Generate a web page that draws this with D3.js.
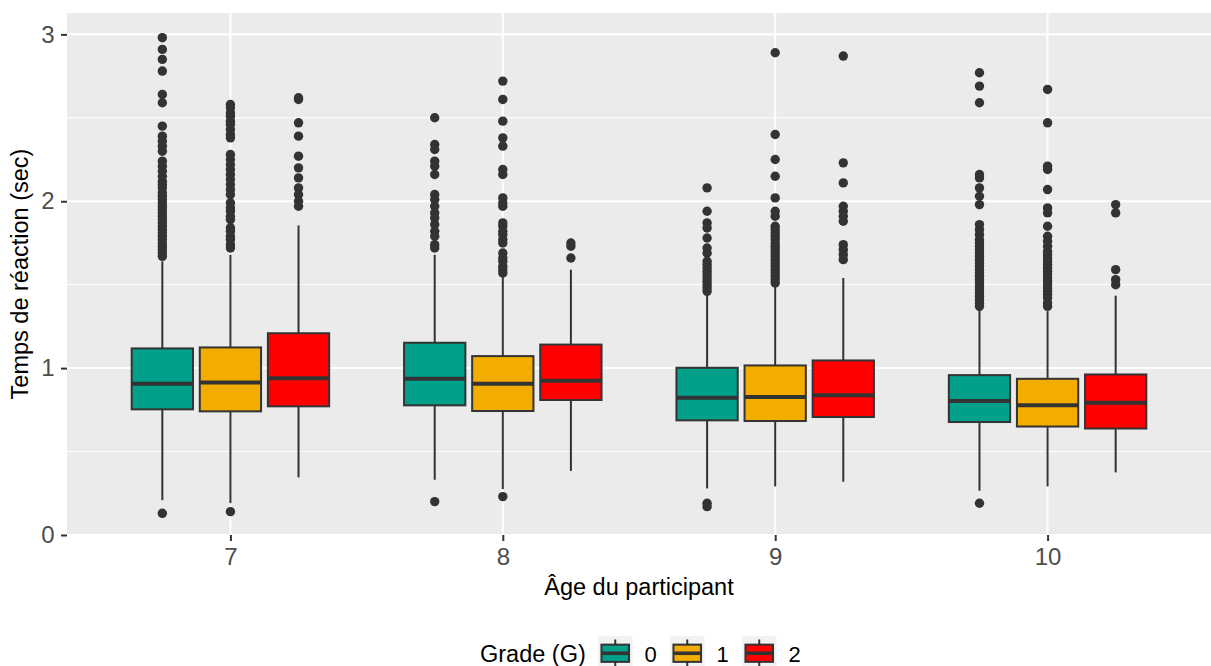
<!DOCTYPE html>
<html>
<head>
<meta charset="utf-8">
<script src="https://cdn.jsdelivr.net/npm/d3@7"></script>
<style>
  html, body { margin: 0; padding: 0; background: #ffffff; }
  svg { display: block; font-family: "Liberation Sans", Arial, Helvetica, sans-serif; }
</style>
</head>
<body>
<svg id="chart" width="1211" height="666"></svg>
<script>
// ---------------- data ----------------
const ages = ["7", "8", "9", "10"];
const grades = ["0", "1", "2"];
const yTicks = [0, 1, 2, 3];

// per age (rows) and grade (columns: G0, G1, G2)
const lowerWhisker = [
  [0.209, 0.191, 0.345],
  [0.331, 0.275, 0.384],
  [0.279, 0.291, 0.319],
  [0.265, 0.291, 0.375]
];
const q1 = [
  [0.753, 0.741, 0.771],
  [0.777, 0.743, 0.809],
  [0.687, 0.683, 0.707],
  [0.677, 0.650, 0.638]
];
const median = [
  [0.906, 0.914, 0.940],
  [0.936, 0.906, 0.924],
  [0.823, 0.827, 0.837],
  [0.803, 0.777, 0.793]
];
const q3 = [
  [1.118, 1.124, 1.209],
  [1.152, 1.072, 1.141],
  [1.002, 1.016, 1.046],
  [0.958, 0.936, 0.962]
];
const upperWhisker = [
  [1.640, 1.679, 1.855],
  [1.679, 1.554, 1.590],
  [1.440, 1.500, 1.540],
  [1.351, 1.341, 1.434]
];

const outliers7 = [
  [2.98, 2.91, 2.85, 2.78, 2.64, 2.59, 2.45, 2.39, 2.36, 2.33, 2.30, 2.24, 2.21, 2.18, 2.15, 2.12, 2.10, 2.08, 2.05, 2.03, 2.01, 1.99, 1.97, 1.95, 1.93, 1.91, 1.89, 1.87, 1.85, 1.83, 1.81, 1.79, 1.77, 1.75, 1.73, 1.71, 1.69, 1.67, 0.13],
  [2.58, 2.56, 2.53, 2.51, 2.48, 2.46, 2.43, 2.40, 2.38, 2.28, 2.25, 2.22, 2.19, 2.16, 2.13, 2.10, 2.07, 2.04, 1.99, 1.96, 1.94, 1.91, 1.89, 1.84, 1.82, 1.79, 1.77, 1.74, 1.72, 0.14],
  [2.62, 2.61, 2.47, 2.39, 2.27, 2.20, 2.14, 2.08, 2.04, 2.00, 1.97]
];
const outliers8 = [
  [2.50, 2.34, 2.31, 2.24, 2.21, 2.16, 2.04, 2.01, 1.97, 1.93, 1.90, 1.86, 1.82, 1.79, 1.74, 1.72, 0.20],
  [2.72, 2.61, 2.48, 2.38, 2.33, 2.19, 2.16, 2.02, 1.99, 1.97, 1.87, 1.85, 1.82, 1.80, 1.77, 1.75, 1.69, 1.66, 1.64, 1.61, 1.59, 1.57, 0.23],
  [1.75, 1.73, 1.66]
];
const outliers9 = [
  [2.08, 1.94, 1.87, 1.84, 1.78, 1.72, 1.69, 1.64, 1.62, 1.60, 1.58, 1.56, 1.54, 1.52, 1.50, 1.48, 1.46, 0.19, 0.17],
  [2.89, 2.40, 2.25, 2.15, 2.02, 1.94, 1.91, 1.85, 1.83, 1.81, 1.79, 1.77, 1.75, 1.73, 1.71, 1.69, 1.67, 1.65, 1.63, 1.61, 1.59, 1.57, 1.55, 1.53, 1.51],
  [2.87, 2.23, 2.11, 1.97, 1.94, 1.91, 1.88, 1.74, 1.71, 1.68, 1.65]
];
const outliers10 = [
  [2.77, 2.69, 2.59, 2.16, 2.14, 2.08, 2.03, 1.98, 1.86, 1.83, 1.80, 1.77, 1.75, 1.73, 1.71, 1.69, 1.67, 1.65, 1.63, 1.61, 1.59, 1.57, 1.55, 1.53, 1.51, 1.49, 1.47, 1.45, 1.43, 1.41, 1.39, 1.37, 0.19],
  [2.67, 2.47, 2.21, 2.19, 2.07, 1.96, 1.93, 1.85, 1.79, 1.76, 1.73, 1.70, 1.68, 1.66, 1.64, 1.62, 1.60, 1.58, 1.56, 1.54, 1.52, 1.50, 1.48, 1.46, 1.44, 1.42, 1.39, 1.37],
  [1.98, 1.93, 1.59, 1.53, 1.50]
];
const outliers = [outliers7, outliers8, outliers9, outliers10];

// ---------------- style / layout ----------------
const fills = ["#00A08A", "#F2AD00", "#FF0000"];
const ink = "#333333";
const panel = { left: 67, right: 1211, top: 13, bottom: 535 };
const tickFont = 24, legendFont = 22, titleFont = 23.5;
const lw = 2;

const svg = d3.select("#chart");

const x = d3.scalePoint().domain(ages).range([panel.left, panel.right]).padding(0.6);
const step = x.step();
const dodge = d3.scaleBand().domain(grades).range([-0.375 * step, 0.375 * step]);
const boxW = dodge.bandwidth() * 0.9;
const y = d3.scaleLinear().domain([0, 3.128]).range([panel.bottom, panel.top]);

// panel background
svg.append("rect")
  .attr("x", panel.left).attr("y", panel.top)
  .attr("width", panel.right - panel.left).attr("height", panel.bottom - panel.top)
  .attr("fill", "#EBEBEB");

// minor gridlines
const minorY = [0.5, 1.5, 2.5];
svg.append("g").selectAll("line").data(minorY).join("line")
  .attr("x1", panel.left).attr("x2", panel.right)
  .attr("y1", d => y(d)).attr("y2", d => y(d))
  .attr("stroke", "#ffffff").attr("stroke-width", 1);
// major gridlines
svg.append("g").selectAll("line").data(yTicks).join("line")
  .attr("x1", panel.left).attr("x2", panel.right)
  .attr("y1", d => y(d)).attr("y2", d => y(d))
  .attr("stroke", "#ffffff").attr("stroke-width", 2);
svg.append("g").selectAll("line").data(ages).join("line")
  .attr("x1", d => x(d)).attr("x2", d => x(d))
  .attr("y1", panel.top).attr("y2", panel.bottom)
  .attr("stroke", "#ffffff").attr("stroke-width", 2);

// build box records
const boxes = [];
ages.forEach((a, i) => {
  grades.forEach((g, j) => {
    boxes.push({
      age: a, grade: g, gi: j,
      cx: x(a) + dodge(g) + dodge.bandwidth() / 2,
      lw: lowerWhisker[i][j], q1: q1[i][j], med: median[i][j], q3: q3[i][j], uw: upperWhisker[i][j],
      out: outliers[i][j]
    });
  });
});

const gBox = svg.append("g");
// whiskers
gBox.selectAll("line.wu").data(boxes).join("line").attr("class", "wu")
  .attr("x1", d => d.cx).attr("x2", d => d.cx)
  .attr("y1", d => y(d.q3)).attr("y2", d => y(d.uw))
  .attr("stroke", ink).attr("stroke-width", lw);
gBox.selectAll("line.wl").data(boxes).join("line").attr("class", "wl")
  .attr("x1", d => d.cx).attr("x2", d => d.cx)
  .attr("y1", d => y(d.q1)).attr("y2", d => y(d.lw))
  .attr("stroke", ink).attr("stroke-width", lw);
// boxes
gBox.selectAll("rect").data(boxes).join("rect")
  .attr("x", d => d.cx - boxW / 2).attr("width", boxW)
  .attr("y", d => y(d.q3)).attr("height", d => y(d.q1) - y(d.q3))
  .attr("fill", d => fills[d.gi]).attr("stroke", ink).attr("stroke-width", lw);
// medians
gBox.selectAll("line.med").data(boxes).join("line").attr("class", "med")
  .attr("x1", d => d.cx - boxW / 2).attr("x2", d => d.cx + boxW / 2)
  .attr("y1", d => y(d.med)).attr("y2", d => y(d.med))
  .attr("stroke", ink).attr("stroke-width", 4);
// outliers
const pts = boxes.flatMap(b => b.out.map(v => ({ cx: b.cx, v })));
gBox.selectAll("circle").data(pts).join("circle")
  .attr("cx", d => d.cx).attr("cy", d => y(d.v)).attr("r", 4.7)
  .attr("fill", ink);

// axes
const yAxis = d3.axisLeft(y).tickValues(yTicks).tickSize(6).tickPadding(6.5).tickFormat(d3.format("d"));
const gy = svg.append("g").attr("transform", `translate(${panel.left},0)`).call(yAxis);
const xAxis = d3.axisBottom(x).tickSize(6).tickPadding(7);
const gx = svg.append("g").attr("transform", `translate(0,${panel.bottom})`).call(xAxis);
[gx, gy].forEach(g => {
  g.select(".domain").remove();
  g.selectAll(".tick line").attr("stroke", ink).attr("stroke-width", lw);
  g.selectAll(".tick text").attr("fill", "#4D4D4D").attr("font-size", tickFont)
    .attr("font-family", "Liberation Sans, Arial, sans-serif");
});

// axis titles
svg.append("text")
  .attr("x", (panel.left + panel.right) / 2).attr("y", 595)
  .attr("text-anchor", "middle").attr("font-size", titleFont).attr("fill", "#000")
  .text("Âge du participant");
svg.append("text")
  .attr("transform", `translate(28,${(panel.top + panel.bottom) / 2}) rotate(-90)`)
  .attr("text-anchor", "middle").attr("font-size", titleFont).attr("fill", "#000")
  .text("Temps de réaction (sec)");

// legend
const legY = 636, keySize = 34.5;
const leg = svg.append("g");
leg.append("text").attr("x", 480).attr("y", 661.7)
  .attr("font-size", titleFont).attr("fill", "#000").text("Grade (G)");
grades.forEach((g, j) => {
  const kx = 598 + j * 72;
  const k = leg.append("g").attr("transform", `translate(${kx},${legY})`);
  k.append("rect").attr("width", keySize).attr("height", keySize).attr("fill", "#F2F2F2");
  const bx = keySize * 0.1, bw = keySize * 0.8;
  k.append("line").attr("x1", keySize / 2).attr("x2", keySize / 2).attr("y1", keySize * 0.1).attr("y2", keySize * 0.25)
    .attr("stroke", ink).attr("stroke-width", lw);
  k.append("line").attr("x1", keySize / 2).attr("x2", keySize / 2).attr("y1", keySize * 0.75).attr("y2", keySize * 0.9)
    .attr("stroke", ink).attr("stroke-width", lw);
  k.append("rect").attr("x", bx).attr("y", keySize * 0.25).attr("width", bw).attr("height", keySize * 0.5)
    .attr("fill", fills[j]).attr("stroke", ink).attr("stroke-width", lw);
  k.append("line").attr("x1", bx).attr("x2", bx + bw).attr("y1", keySize / 2).attr("y2", keySize / 2)
    .attr("stroke", ink).attr("stroke-width", 3.6);
  leg.append("text").attr("x", kx + keySize + 12).attr("y", 661.7)
    .attr("font-size", legendFont).attr("fill", "#000").text(g);
});
</script>
</body>
</html>
